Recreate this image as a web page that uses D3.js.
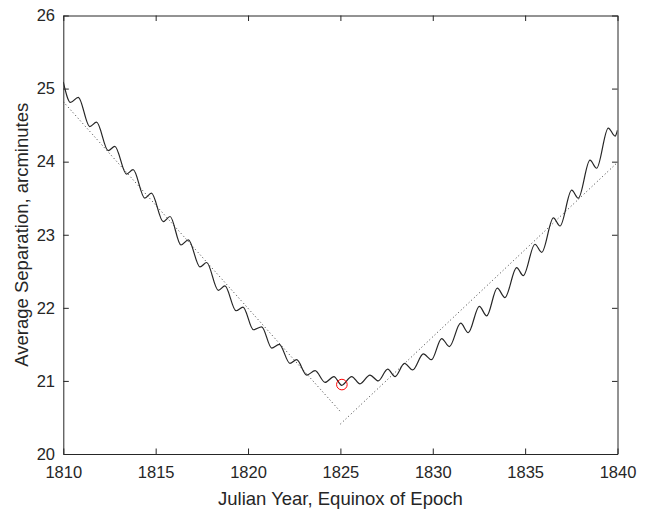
<!DOCTYPE html>
<html>
<head>
<meta charset="utf-8">
<script src="https://cdn.jsdelivr.net/npm/d3@7"></script>
<style>
  body { margin: 0; background: #fff; }
  text { font-family: "Liberation Sans", Arial, Helvetica, sans-serif; }
</style>
</head>
<body>
<svg id="chart" width="645" height="510"></svg>
<script>
// Average separation over the epoch, sampled at its annual peaks and troughs
const sepYears = [
  1810.00, 1810.39, 1810.81, 1811.43, 1811.80, 1812.43, 1812.79, 1813.42, 1813.78,
  1814.41, 1814.77, 1815.41, 1815.78, 1816.37, 1816.77, 1817.40, 1817.76, 1818.39,
  1818.75, 1819.35, 1819.73, 1820.29, 1820.74, 1821.28, 1821.69, 1822.27, 1822.63,
  1823.18, 1823.63, 1824.17, 1824.65, 1825.07, 1825.61, 1826.06, 1826.60, 1827.05,
  1827.56, 1827.96, 1828.47, 1828.91, 1829.49, 1829.93, 1830.48, 1830.90, 1831.51,
  1831.92, 1832.52, 1832.92, 1833.49, 1833.91, 1834.54, 1834.90, 1835.53, 1835.90,
  1836.53, 1836.89, 1837.52, 1837.88, 1838.51, 1838.87, 1839.50, 1839.87, 1840.00
];
const sepValues = [
  25.09, 24.81, 24.88, 24.48, 24.54, 24.15, 24.21, 23.83, 23.89,
  23.50, 23.57, 23.18, 23.25, 22.86, 22.93, 22.56, 22.62, 22.24,
  22.30, 21.96, 22.01, 21.70, 21.74, 21.45, 21.50, 21.24, 21.29,
  21.08, 21.14, 20.98, 21.06, 20.94, 21.06, 20.96, 21.08, 21.00,
  21.16, 21.06, 21.24, 21.15, 21.37, 21.29, 21.58, 21.47, 21.79,
  21.66, 22.02, 21.89, 22.27, 22.14, 22.55, 22.44, 22.87, 22.76,
  23.23, 23.12, 23.61, 23.50, 24.02, 23.91, 24.46, 24.35, 24.43
];

// Linear trends before and after the minimum
const trendBeforeYears = [1810, 1825];
const trendBeforeValues = [24.82, 20.58];
const trendAfterYears = [1825, 1840];
const trendAfterValues = [20.41, 23.99];

// Epoch of minimum separation
const minYear = [1825.08];
const minValue = [20.95];

const xTicks = [1810, 1815, 1820, 1825, 1830, 1835, 1840];
const yTicks = [20, 21, 22, 23, 24, 25, 26];

const svg = d3.select("#chart");
const margin = { left: 63.3, top: 15.5, right: 645 - 617.5, bottom: 510 - 454 };
const W = 645 - margin.left - margin.right;
const H = 510 - margin.top - margin.bottom;
const axisColor = "#262626";

const x = d3.scaleLinear().domain([1810, 1840]).range([0, W]);
const y = d3.scaleLinear().domain([20, 26]).range([H, 0]);

const g = svg.append("g").attr("transform", `translate(${margin.left},${margin.top})`);

g.append("clipPath").attr("id", "plot-clip")
  .append("rect").attr("width", W).attr("height", H);

const plot = g.append("g").attr("clip-path", "url(#plot-clip)");

const line = d3.line().x(d => x(d[0])).y(d => y(d[1]));

// dotted trend lines
[[trendBeforeYears, trendBeforeValues], [trendAfterYears, trendAfterValues]].forEach(([xs, ys]) => {
  plot.append("path")
    .datum(d3.zip(xs, ys))
    .attr("d", line)
    .attr("fill", "none")
    .attr("stroke", "#3a3a3a")
    .attr("stroke-width", 1)
    .attr("stroke-dasharray", "1,2.6");
});

// separation curve
plot.append("path")
  .datum(d3.zip(sepYears, sepValues))
  .attr("d", line.curve(d3.curveMonotoneX))
  .attr("fill", "none")
  .attr("stroke", "#262626")
  .attr("stroke-width", 1.2);

// minimum marker
plot.selectAll("circle.min")
  .data(d3.zip(minYear, minValue))
  .join("circle")
  .attr("class", "min")
  .attr("cx", d => x(d[0]))
  .attr("cy", d => y(d[1]))
  .attr("r", 5.3)
  .attr("fill", "none")
  .attr("stroke", "#ff0000")
  .attr("stroke-width", 1);

// axes with inward ticks on all four sides
const tickLen = 5.5;
function styleAxis(sel) {
  sel.selectAll("path.domain").attr("stroke", axisColor).attr("stroke-width", 1);
  sel.selectAll(".tick line").attr("stroke", axisColor).attr("stroke-width", 1);
  sel.selectAll(".tick text").attr("fill", axisColor).style("font-size", "16.5px")
    .style("font-family", '"Liberation Sans", Arial, Helvetica, sans-serif');
}

g.append("g").attr("transform", `translate(0,${H})`)
  .call(d3.axisBottom(x).tickValues(xTicks).tickFormat(d3.format("d"))
    .tickSizeInner(-tickLen).tickSizeOuter(0).tickPadding(12.7))
  .call(styleAxis);

g.append("g")
  .call(d3.axisTop(x).tickValues(xTicks).tickFormat("")
    .tickSizeInner(-tickLen).tickSizeOuter(0))
  .call(styleAxis);

g.append("g")
  .call(d3.axisLeft(y).tickValues(yTicks).tickFormat(d3.format("d"))
    .tickSizeInner(-tickLen).tickSizeOuter(0).tickPadding(8.3))
  .call(styleAxis);

g.append("g").attr("transform", `translate(${W},0)`)
  .call(d3.axisRight(y).tickValues(yTicks).tickFormat("")
    .tickSizeInner(-tickLen).tickSizeOuter(0))
  .call(styleAxis);

// axis titles
svg.append("text")
  .attr("x", margin.left + W / 2)
  .attr("y", 505)
  .attr("text-anchor", "middle")
  .attr("fill", axisColor)
  .style("font-size", "18.5px")
  .text("Julian Year, Equinox of Epoch");

svg.append("text")
  .attr("transform", `translate(28,${margin.top + H / 2}) rotate(-90)`)
  .attr("text-anchor", "middle")
  .attr("fill", axisColor)
  .style("font-size", "18.5px")
  .text("Average Separation, arcminutes");
</script>
</body>
</html>
